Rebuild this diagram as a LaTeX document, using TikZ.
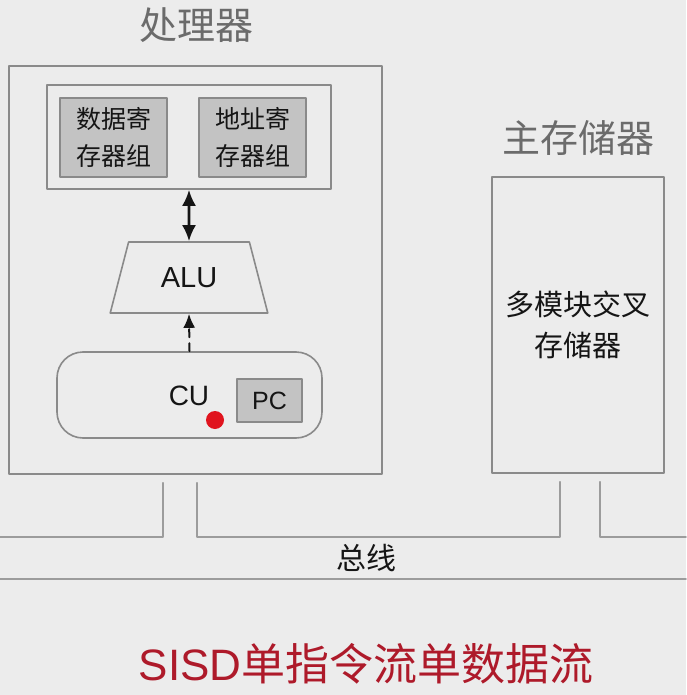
\documentclass[tikz,border=0pt]{standalone}
\usepackage{fontspec}
\setmainfont{Liberation Sans}
\newfontfamily\cjk{Noto Sans CJK SC}
\usetikzlibrary{calc,shapes.geometric,arrows.meta}
\definecolor{bgcol}{HTML}{ECECEC}
\definecolor{framecol}{HTML}{8A8A8A}
\definecolor{regcol}{HTML}{C3C3C3}
\definecolor{titlecol}{HTML}{6B6B6B}
\definecolor{inkcol}{HTML}{151515}
\definecolor{dotred}{HTML}{E0141E}
\definecolor{sisdred}{HTML}{AE1A2A}
\def\bustop{537}
\def\busbot{579}
\def\busgap{8}

\tikzset{
	frame/.style = {draw=framecol, line width=0.8pt, fill=bgcol, inner sep=0pt},
	regbox/.style = {frame, fill=regcol, minimum width=53.5pt, minimum height=39.5pt,
		align=center, text=inkcol, font=\cjk\fontsize{12.5}{18.5}\selectfont},
	title/.style = {text=titlecol, font=\cjk\fontsize{19}{22}\selectfont},
	bus/.style = {draw=framecol!85, line width=0.8pt},
	tip/.style = {Latex[length=8pt,width=7pt]},
}

\begin{document}
\begin{tikzpicture}[x=0.5pt, y=-0.5pt, line cap=round, line join=round]
		\useasboundingbox[fill=bgcol] (0,0) rectangle (686,695);
		
		% Processor
		\node[frame, minimum width=186.5pt, minimum height=204pt] (proc) at (195.5,270) {};
		\node[title] (proctitle) at (196,25) {处理器};
		
		% Registers
		\node[frame, minimum width=142pt, minimum height=52pt] (regs) at (189,137) {};
		\node[regbox] (dreg) at (113.5,137.5) {数据寄\\存器组};
		\node[regbox] (areg) at (252.5,137.5) {地址寄\\存器组};
		
		% ALU
		\node[draw=framecol, line width=0.8pt, trapezium, trapezium stretches=true,
			trapezium left angle=67, trapezium right angle=67, inner sep=0pt,
			minimum width=79pt, minimum height=35.5pt, text=inkcol,
			font=\fontsize{14.5}{17}\selectfont] (alu) at (189,277.5) {ALU};
		
		% CU
		\node[frame, rounded corners=13pt, minimum width=132.5pt, minimum height=43pt] (cu) at (189.5,395) {};
		\node[text=inkcol, font=\fontsize{14}{17}\selectfont] (cutext) at (189,396) {CU};
		\node[frame, fill=regcol, minimum width=32.5pt, minimum height=21.5pt, text=inkcol,
			font=\fontsize{12.5}{15}\selectfont] (pc) at (269.5,400.5) {PC};
		\node[circle, fill=dotred, inner sep=0pt, minimum size=9pt] (dot) at (215,420) {};
		
		% Arrows
		\draw[{Latex[length=8pt,width=7pt]}-{Latex[length=8pt,width=7pt]}, line width=1.3pt, inkcol] (regs.south) -- (alu.north);
		\draw[-{Latex[length=7pt,width=6pt]}, line width=1pt, dash pattern=on 4pt off 3pt, inkcol] (cu.north) -- (alu.south);
		
		% Main memory
		\node[frame, minimum width=86pt, minimum height=148pt, align=center, text=inkcol,
			font=\cjk\fontsize{14.5}{20.5}\selectfont] (mem) at (578,325) {多模块交叉\\存储器};
		\node[title] (memtitle) at (578,138) {主存储器};
		
		% Bus
		\coordinate (busline) at (0,\bustop);
		\coordinate (p1) at ($(proc.south)+(-32.5,\busgap)$);
		\coordinate (p2) at ($(proc.south)+(1.5,\busgap)$);
		\coordinate (m1) at ($(mem.south)+(-18,\busgap)$);
		\coordinate (m2) at ($(mem.south)+(22,\busgap)$);
		\draw[bus] (busline) -| (p1);
		\draw[bus] (p2) -- (p2 |- busline) -- (m1 |- busline) -- (m1);
		\draw[bus] (m2) |- (686,\bustop);
		\draw[bus] (0,\busbot) -- (686,\busbot);
		\node[text=inkcol, font=\cjk\fontsize{15}{18}\selectfont] (bus) at (366,558) {总线};
		
		% Caption
		\node[text=sisdred, font=\fontsize{22}{26}\selectfont] (caption) at (366,664) {SISD{\cjk 单指令流单数据流}};
	\end{tikzpicture}
\end{document}
